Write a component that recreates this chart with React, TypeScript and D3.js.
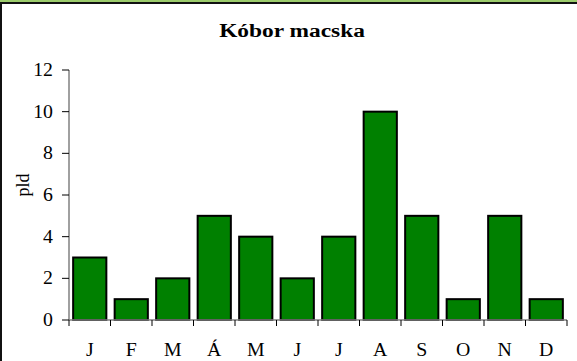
import React, { useEffect } from "react";
import * as d3 from "d3";

const months = ["J", "F", "M", "Á", "M", "J", "J", "A", "S", "O", "N", "D"];
const counts = [3, 1, 2, 5, 4, 2, 4, 10, 5, 1, 5, 1];
const yTicks = [0, 2, 4, 6, 8, 10, 12];
const title = "Kóbor macska";
const yLabel = "pld";

const W = 577;
const H = 361;
const left = 69;
const right = 567;
const top = 70;
const bottom = 320;
const font = "'Liberation Serif', 'Times New Roman', serif";
// the chart is drawn slightly wider than tall, so text is stretched horizontally
const labelStretch = 1.1;
const titleStretch = 1.2;
const labelSize = 18;

function Stretched({
  x,
  y,
  sx,
  anchor,
  size,
  bold,
  children,
}: {
  x: number;
  y: number;
  sx: number;
  anchor: "start" | "middle" | "end";
  size: number;
  bold?: boolean;
  children: React.ReactNode;
}) {
  return (
    <g transform={`translate(${x},${y}) scale(${sx},1)`}>
      <text
        x={0}
        y={0}
        textAnchor={anchor}
        fontSize={size}
        fontWeight={bold ? "bold" : "normal"}
        fill="#000"
      >
        {children}
      </text>
    </g>
  );
}

export default function App() {
  useEffect(() => {
    document.body.style.overflow = "hidden";
    document.body.style.margin = "0";
    document.body.style.background = "#fff";
  }, []);

  const x = d3
    .scaleBand<number>()
    .domain(months.map((_, i) => i))
    .range([left, right])
    .paddingInner(0.2)
    .paddingOuter(0.1);
  const y = d3.scaleLinear().domain([0, 12]).range([bottom, top]);
  const step = (right - left) / months.length;

  return (
    <svg
      width={W}
      height={H}
      style={{ position: "absolute", left: 0, top: 0, background: "#fff", display: "block" }}
      fontFamily={font}
    >
      <rect x={0} y={0} width={W} height={H} fill="#fff" />
      {/* frame */}
      <rect x={0} y={0} width={W} height={2} fill="#9ccc6c" />
      <rect x={0} y={2} width={W} height={2} fill="#111" />
      <rect x={0} y={2} width={2} height={H - 2} fill="#111" />

      <Stretched x={292} y={37} sx={titleStretch} anchor="middle" size={19.5} bold>
        {title}
      </Stretched>

      {/* bars */}
      {counts.map((v, i) => (
        <rect
          key={i}
          x={x(i)!}
          y={y(v)}
          width={x.bandwidth()}
          height={y(0) - y(v)}
          fill="#008000"
          stroke="#000"
          strokeWidth={2}
        />
      ))}

      {/* y axis */}
      <line x1={left} y1={top} x2={left} y2={bottom} stroke="#808080" strokeWidth={1.5} />
      {yTicks.map((t) => (
        <g key={t}>
          <line x1={left - 7} y1={y(t)} x2={left} y2={y(t)} stroke="#000" strokeWidth={1} />
          <Stretched x={53} y={y(t) + 6} sx={labelStretch} anchor="end" size={labelSize}>
            {t}
          </Stretched>
        </g>
      ))}
      <text
        transform={`translate(22,${(top + bottom) / 2 - 10}) rotate(-90) scale(1,${labelStretch})`}
        textAnchor="middle"
        dy="0.35em"
        fontSize={labelSize}
        fill="#000"
      >
        {yLabel}
      </text>

      {/* x axis */}
      <line x1={left} y1={bottom} x2={right} y2={bottom} stroke="#808080" strokeWidth={1.5} />
      {d3.range(months.length + 1).map((i) => (
        <line
          key={i}
          x1={left + i * step}
          y1={bottom}
          x2={left + i * step}
          y2={bottom + 6}
          stroke="#000"
          strokeWidth={1}
        />
      ))}
      {months.map((m, i) => (
        <Stretched
          key={i}
          x={x(i)! + x.bandwidth() / 2}
          y={356}
          sx={labelStretch}
          anchor="middle"
          size={labelSize}
        >
          {m}
        </Stretched>
      ))}
    </svg>
  );
}
